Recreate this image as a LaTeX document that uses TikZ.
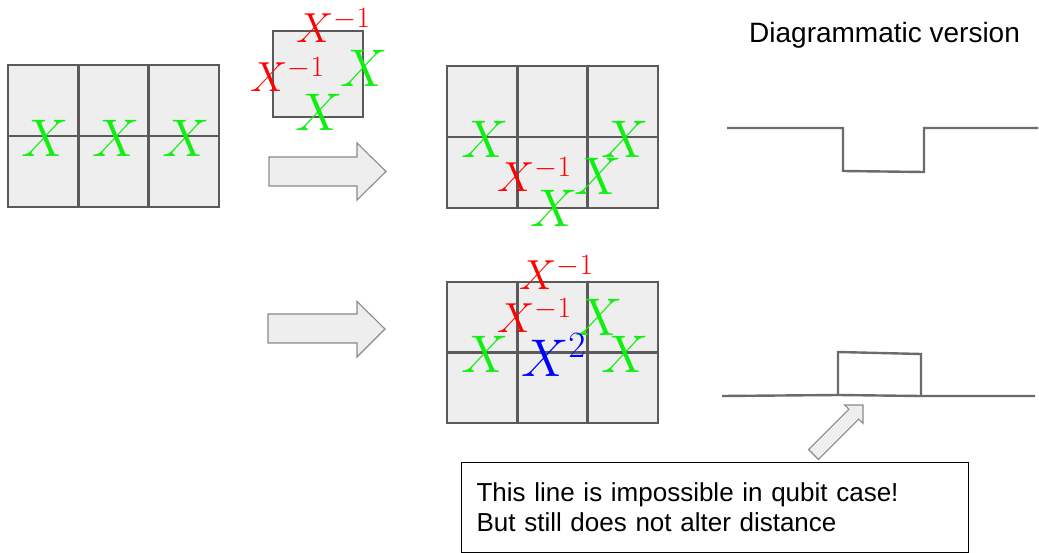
\RequirePackage{fix-cm}
\documentclass[tikz,border=0pt]{standalone}
\usepackage{fontspec}
\newfontfamily\arialf{Liberation Sans}
\definecolor{gfill}{HTML}{EEEEEE}
\definecolor{gline}{HTML}{5A5A5A}
\definecolor{aline}{HTML}{8A8A8A}
\definecolor{xgreen}{HTML}{11EE11}
\definecolor{xred}{HTML}{FF0000}
\definecolor{xblue}{HTML}{0000FF}
\tikzset{
  cell/.style={fill=gfill, draw=gline, line width=2.4},
  blockarrow/.style={fill=gfill, draw=aline, line width=1.1, line join=miter},
  gx/.style={text=xgreen, inner sep=0, anchor=base west, font=\fontsize{53}{60}\selectfont},
  rx/.style={text=xred, inner sep=0, anchor=base west, font=\fontsize{42}{50}\selectfont},
  bx/.style={text=xblue, inner sep=0, anchor=base west, font=\fontsize{53}{60}\selectfont},
  wave/.style={draw=gline!90, line width=2.4, line join=miter},
  textbox/.style={draw=black, line width=1.2, anchor=north west, minimum width=507, minimum height=90,
    text width=477, align=left, inner xsep=15, font=\arialf\fontsize{26}{30}\selectfont},
  titletext/.style={anchor=base west, inner sep=0, font=\arialf\fontsize{28}{32}\selectfont}
}
\begin{document}
\begin{tikzpicture}[x=1pt,y=-1pt]
\useasboundingbox (0,0) rectangle (1039,553);
% left grid
\foreach \i in {0,1,2} \foreach \j in {0,1}
  \draw[cell] ({8+70.33*\i},{65+71*\j}) rectangle ++(70.33,71);
% small square
\draw[cell] (273,31) rectangle (363,117);
% middle grids
\foreach \i in {0,1,2} \foreach \j in {0,1}
  \draw[cell] ({447+70.33*\i},{66+71*\j}) rectangle ++(70.33,71);
\foreach \i in {0,1,2} \foreach \j in {0,1}
  \draw[cell] ({447+70.33*\i},{282+70.5*\j}) rectangle ++(70.33,70.5);
% block arrows
\draw[blockarrow] (269,157) -- (357,157) -- (357,143) -- (386,171.5) -- (357,200) -- (357,186) -- (269,186) -- cycle;
\draw[blockarrow] (268,314) -- (357,314) -- (357,301.5) -- (385,329) -- (357,357) -- (357,343) -- (268,343) -- cycle;
% labels left grid
\node[gx] (l1) at (21,157) {$X$};
\node[gx] (l2) at (92,157) {$X$};
\node[gx] (l3) at (162,157) {$X$};
% labels small square
\node[rx] (s1) at (296,43) {$X^{-1}$};
\node[rx] (s2) at (250,92) {$X^{-1}$};
\node[gx] (s3) at (340,87) {$X$};
\node[gx] (s4) at (295,131) {$X$};
% labels top middle grid
\node[gx] (t1) at (461,158) {$X$};
\node[gx] (t2) at (601,158) {$X$};
\node[rx] (t3) at (497,192) {$X^{-1}$};
\node[gx] (t4) at (574,195) {$X$};
\node[gx] (t5) at (530,227) {$X$};
% labels bottom middle grid
\node[rx] (b1) at (519,290) {$X^{-1}$};
\node[rx] (b2) at (497,333) {$X^{-1}$};
\node[gx] (b3) at (575,335) {$X$};
\node[gx] (b4) at (461,372) {$X$};
\node[bx] (b5) at (521,377) {$X^2$};
\node[gx] (b6) at (601,372) {$X$};
% diagrammatic version
\node[titletext] (title) at (749,43) {Diagrammatic version};
\draw[wave] (727,128) -- (843,128) -- (843,171) -- (924,172) -- (924,128) -- (1038,128);
\draw[wave] (722,396) -- (838,395) -- (921,396) -- (1035,396);
\draw[wave] (838,395) -- (838,352) -- (921,354) -- (921,396);
% note box and pointer arrow
\node[textbox] (note) at (461,462) {This line is impossible in qubit case!\\But still does not alter distance};
\draw[blockarrow, shift={(813.5,454.5)}, rotate=45] (0,-7) -- (57,-7) -- (57,-13) -- (70,0) -- (57,13) -- (57,7) -- (0,7) -- cycle;
\end{tikzpicture}
\end{document}
